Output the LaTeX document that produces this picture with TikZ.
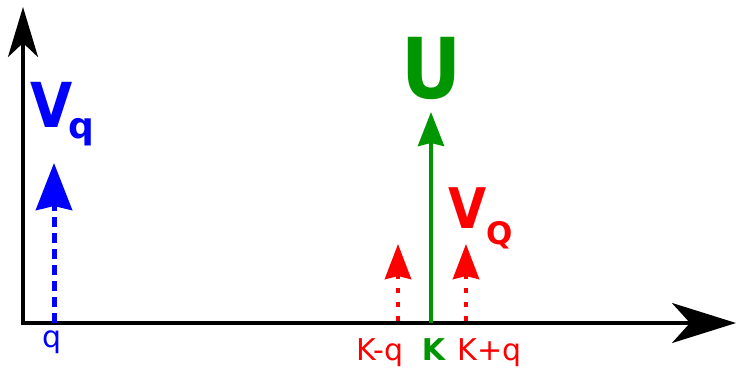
\documentclass[tikz,border=0pt]{standalone}
\usepackage{fontspec}
\setmainfont{DejaVu Sans}
\newfontfamily\narrowfont[FakeStretch=0.88]{DejaVu Sans}
\usetikzlibrary{arrows.meta}
\definecolor{myblue}{RGB}{0,0,255}
\definecolor{mygreen}{RGB}{0,150,0}
\definecolor{myred}{RGB}{255,0,0}
\tikzset{
  axisline/.style={line width=3.5pt, draw=black},
  lbl/.style={inner sep=0pt, anchor=base},
  smalllbl/.style={lbl, font=\fontsize{30}{30}\selectfont},
}
\begin{document}
\begin{tikzpicture}[x=1pt,y=-1pt]
\useasboundingbox (0,0) rectangle (737,368);
% axes
\coordinate (O) at (23,323);
\coordinate (Ov) at (23,324.75);
\coordinate (Oh) at (21.25,323);
\coordinate (ytip) at (23,7);
\coordinate (xtip) at (736,323);
\draw[axisline, -{Stealth[length=50pt,width=30pt,inset=14pt]}] (Ov) -- (ytip);
\draw[axisline, -{Stealth[length=64pt,width=40pt,inset=18pt]}] (Oh) -- (xtip);
% blue dashed arrow
\coordinate (qb) at (54,323);
\coordinate (qt) at (54,163);
\draw[myblue, line width=5pt, dash pattern=on 10pt off 6pt,
  -{Stealth[length=47pt,width=36pt,inset=4pt]}] (qb) -- (qt);
% green arrow
\coordinate (Kb) at (431,323);
\coordinate (Kt) at (431,112);
\draw[mygreen, line width=4pt, -{Stealth[length=34pt,width=26pt,inset=3pt]}] (Kb) -- (Kt);
% red dotted arrows
\coordinate (Lb) at (398,320.5);
\coordinate (Lt) at (398,244);
\coordinate (Rb) at (466,320.5);
\coordinate (Rt) at (466,244);
\draw[myred, line width=4.5pt, dash pattern=on 5pt off 9pt,
  -{Stealth[length=35pt,width=26pt,inset=3pt]}] (Lb) -- (Lt);
\draw[myred, line width=4.5pt, dash pattern=on 5pt off 9pt,
  -{Stealth[length=35pt,width=26pt,inset=3pt]}] (Rb) -- (Rt);
% big labels
\node[lbl, text=myblue, font=\narrowfont\fontsize{62}{62}\selectfont\bfseries] (Vq) at (51.5,127) {V};
\node[lbl, text=myblue, font=\fontsize{36}{36}\selectfont\bfseries] (Vqs) at (81,138) {q};
\node[lbl, text=mygreen, font=\narrowfont\fontsize{84}{84}\selectfont\bfseries] (U) at (432,98) {U};
\node[lbl, text=myred, font=\narrowfont\fontsize{56}{56}\selectfont\bfseries] (VQ) at (467.5,228) {V};
\node[lbl, text=myred, font=\fontsize{31}{31}\selectfont\bfseries] (VQs) at (500,244) {Q};
% axis labels
\node[smalllbl, text=myblue] (q) at (52,347.8) {q};
\node[smalllbl, text=myred] (Kmq) at (380,360) {K-q};
\node[smalllbl, text=mygreen, font=\fontsize{30}{30}\selectfont\bfseries] (K) at (433.5,360) {K};
\node[smalllbl, text=myred] (Kpq) at (489.5,360) {K+q};
\end{tikzpicture}
\end{document}
